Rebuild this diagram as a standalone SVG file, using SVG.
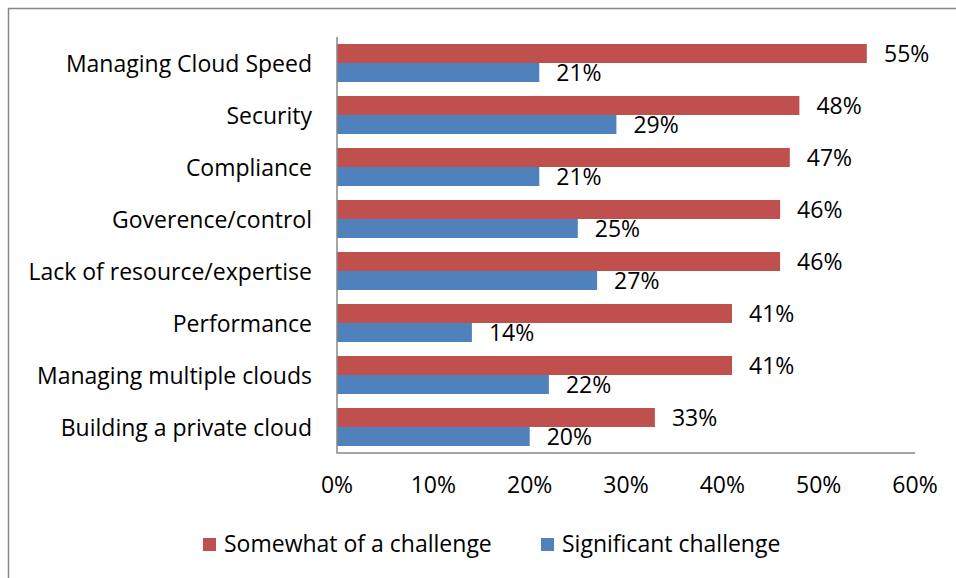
<svg xmlns="http://www.w3.org/2000/svg" width="956" height="578" viewBox="0 0 956 578">
<style>
text{font-family:"Open Sans","Liberation Sans",sans-serif;font-size:23px;fill:#000}
.cat{text-anchor:end}
.ax{text-anchor:middle}
.r{fill:#C0504D}
.b{fill:#4F81BD}
.axis{stroke:#868686;stroke-width:1.5;fill:none}
</style>
<rect x="0" y="0" width="956" height="578" fill="#fff"/>
<path d="M8.5 578 V8.5 H956" stroke="#888" stroke-width="1.5" fill="none"/>
<g id="plot">
<g id="row-0"><text class="cat" x="312" y="71.5">Managing Cloud Speed</text>
<rect class="r" x="337" y="44" width="529.8" height="19"/><rect class="b" x="337" y="63" width="202.3" height="19"/>
<text x="884" y="62">55%</text><text x="556.3" y="81">21%</text></g>
<g id="row-1"><text class="cat" x="312" y="123.5">Security</text>
<rect class="r" x="337" y="96" width="462.4" height="19"/><rect class="b" x="337" y="115" width="279.4" height="19"/>
<text x="816.4" y="114">48%</text><text x="633.4" y="133">29%</text></g>
<g id="row-2"><text class="cat" x="312" y="175.5">Compliance</text>
<rect class="r" x="337" y="148" width="452.8" height="19"/><rect class="b" x="337" y="167" width="202.3" height="19"/>
<text x="806.8" y="166">47%</text><text x="556.3" y="185">21%</text></g>
<g id="row-3"><text class="cat" x="312" y="227.5">Goverence/control</text>
<rect class="r" x="337" y="200" width="443.1" height="19"/><rect class="b" x="337" y="219" width="240.8" height="19"/>
<text x="797.1" y="218">46%</text><text x="594.8" y="237">25%</text></g>
<g id="row-4"><text class="cat" x="312" y="279.5">Lack of resource/expertise</text>
<rect class="r" x="337" y="252" width="443.1" height="19"/><rect class="b" x="337" y="271" width="260.1" height="19"/>
<text x="797.1" y="270">46%</text><text x="614.1" y="289">27%</text></g>
<g id="row-5"><text class="cat" x="312" y="331.5">Performance</text>
<rect class="r" x="337" y="304" width="395" height="19"/><rect class="b" x="337" y="323" width="134.9" height="19"/>
<text x="749" y="322">41%</text><text x="488.9" y="341">14%</text></g>
<g id="row-6"><text class="cat" x="312" y="383.5">Managing multiple clouds</text>
<rect class="r" x="337" y="356" width="395" height="19"/><rect class="b" x="337" y="375" width="211.9" height="19"/>
<text x="749" y="374">41%</text><text x="565.9" y="393">22%</text></g>
<g id="row-7"><text class="cat" x="312" y="435.5">Building a private cloud</text>
<rect class="r" x="337" y="408" width="317.9" height="19"/><rect class="b" x="337" y="427" width="192.7" height="19"/>
<text x="671.9" y="426">33%</text><text x="546.7" y="445">20%</text></g>
</g>
<g id="axes">
<path class="axis" d="M337 37 V453 H915"/>
<text class="ax" x="337" y="493">0%</text>
<text class="ax" x="433.3" y="493">10%</text>
<text class="ax" x="529.7" y="493">20%</text>
<text class="ax" x="626" y="493">30%</text>
<text class="ax" x="722.3" y="493">40%</text>
<text class="ax" x="818.7" y="493">50%</text>
<text class="ax" x="915" y="493">60%</text>
</g>
<g id="legend">
<rect class="r" x="203" y="538" width="13" height="13"/>
<text x="224" y="552">Somewhat of a challenge</text>
<rect class="b" x="541" y="538" width="13" height="13"/>
<text x="562" y="552">Significant challenge</text>
</g>
</svg>
